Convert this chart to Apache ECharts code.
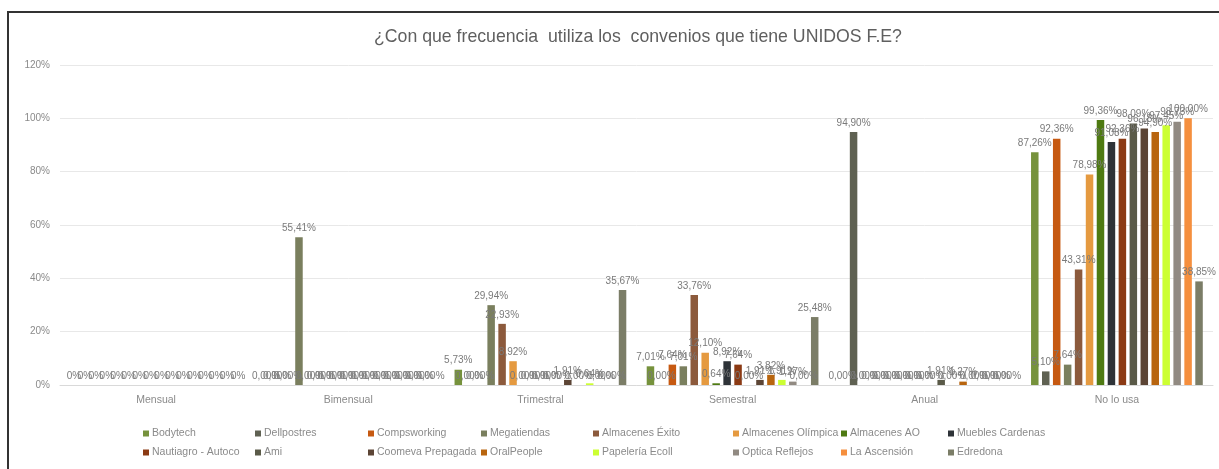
<!DOCTYPE html>
<html>
<head>
<meta charset="utf-8">
<script src="https://cdn.jsdelivr.net/npm/echarts@6/dist/echarts.min.js"></script>
<style>
  html, body { margin: 0; padding: 0; background: #ffffff; }
  #chart { width: 1219px; height: 469px; }
</style>
</head>
<body>
<div id="chart"></div>
<script>
// Frecuencia de uso de los convenios, en porcentaje de respuestas
const categories = ['Mensual', 'Bimensual', 'Trimestral', 'Semestral', 'Anual', 'No lo usa'];

const seriesNames = [
  'Bodytech', 'Dellpostres', 'Compsworking', 'Megatiendas',
  'Almacenes Éxito', 'Almacenes Olímpica', 'Almacenes AO', 'Muebles Cardenas',
  'Nautiagro - Autoco', 'Ami', 'Coomeva Prepagada', 'OralPeople',
  'Papelería Ecoll', 'Optica Reflejos', 'La Ascensión', 'Edredona'
];

const bodytech          = [0, 0, 5.73, 7.01, 0, 87.26];
const dellpostres       = [0, 0, 0, 0, 94.90, 5.10];
const compsworking      = [0, 0, 0, 7.64, 0, 92.36];
const megatiendas       = [0, 55.41, 29.94, 7.01, 0, 7.64];
const almacenesExito    = [0, 0, 22.93, 33.76, 0, 43.31];
const almacenesOlimpica = [0, 0, 8.92, 12.10, 0, 78.98];
const almacenesAO       = [0, 0, 0, 0.64, 0, 99.36];
const mueblesCardenas   = [0, 0, 0, 8.92, 0, 91.08];
const nautiagro         = [0, 0, 0, 7.64, 0, 92.36];
const ami               = [0, 0, 0, 0, 1.91, 98.09];
const coomeva           = [0, 0, 1.91, 1.91, 0, 96.18];
const oralPeople        = [0, 0, 0, 3.82, 1.27, 94.90];
const papeleriaEcoll    = [0, 0, 0.64, 1.91, 0, 97.45];
const opticaReflejos    = [0, 0, 0, 1.27, 0, 98.73];
const laAscension       = [0, 0, 0, 0, 0, 100.00];
const edredona          = [0, 0, 35.67, 25.48, 0, 38.85];

const yTicks = [0, 20, 40, 60, 80, 100, 120];

const seriesValues = [
  bodytech, dellpostres, compsworking, megatiendas,
  almacenesExito, almacenesOlimpica, almacenesAO, mueblesCardenas,
  nautiagro, ami, coomeva, oralPeople,
  papeleriaEcoll, opticaReflejos, laAscension, edredona
];

const palette = [
  '#76923c', '#5f6152', '#c65911', '#7a7f5e',
  '#8c5a3c', '#e59a40', '#4e7a12', '#2e3338',
  '#8b3a14', '#5a5a48', '#5c4535', '#b8650f',
  '#ccff33', '#918a82', '#f58f3e', '#7b7d67'
];

// decimals shown in the value labels, per category
const labelDecimals = [0, 2, 2, 2, 2, 2];

const fmtPct = (v, d) => v.toFixed(d).replace('.', ',') + '%';

const FONT = 'Liberation Sans';
const GREY = '#8a8a8a';

// legend layout: two rows of eight entries
const legendCols = [143, 255, 368, 481, 593, 733, 841, 948];
const legendRows = [428, 447];

const legends = seriesNames.map((name, i) => ({
  data: [name],
  left: legendCols[i % 8],
  top: legendRows[Math.floor(i / 8)],
  icon: 'rect',
  itemWidth: 6,
  itemHeight: 6,
  itemGap: 0,
  padding: 0,
  selectedMode: false,
  textStyle: { fontFamily: FONT, fontSize: 10.5, color: GREY, padding: [0, 0, 0, -2] }
}));

const series = seriesNames.map((name, i) => ({
  name: name,
  type: 'bar',
  data: seriesValues[i],
  barWidth: 7.5,
  barGap: '46%',
  itemStyle: { color: palette[i] },
  label: {
    show: true,
    position: 'top',
    distance: 4,
    fontFamily: FONT,
    fontSize: 10,
    color: '#7a7a7a',
    formatter: p => fmtPct(p.value, labelDecimals[p.dataIndex])
  },
  animation: false
}));

const chart = echarts.init(document.getElementById('chart'), null, { renderer: 'canvas' });
chart.setOption({
  backgroundColor: '#ffffff',
  animation: false,
  color: palette,
  title: {
    text: '¿Con que frecuencia  utiliza los  convenios que tiene UNIDOS F.E?',
    left: 369,
    top: 23,
    textStyle: { fontFamily: FONT, fontSize: 17.7, fontWeight: 'normal', color: '#5f5f5f' }
  },
  legend: legends,
  grid: { left: 60, right: 6, top: 65, bottom: 84, containLabel: false },
  xAxis: {
    type: 'category',
    data: categories,
    axisLine: { show: true, lineStyle: { color: '#d9d9d9' } },
    axisTick: { show: false },
    axisLabel: { fontFamily: FONT, fontSize: 10.5, color: GREY, margin: 10 }
  },
  yAxis: {
    type: 'value',
    min: yTicks[0],
    max: yTicks[yTicks.length - 1],
    interval: yTicks[1] - yTicks[0],
    axisLine: { show: false },
    axisTick: { show: false },
    splitLine: { lineStyle: { color: '#e8e8e8', width: 1 } },
    axisLabel: { fontFamily: FONT, fontSize: 10, color: GREY, margin: 10, formatter: '{value}%' }
  },
  graphic: [{
    type: 'rect',
    shape: { x: 8, y: 12, width: 1230, height: 470 },
    style: { fill: null, stroke: '#333333', lineWidth: 2 },
    silent: true
  }],
  series: series
});
</script>
</body>
</html>
